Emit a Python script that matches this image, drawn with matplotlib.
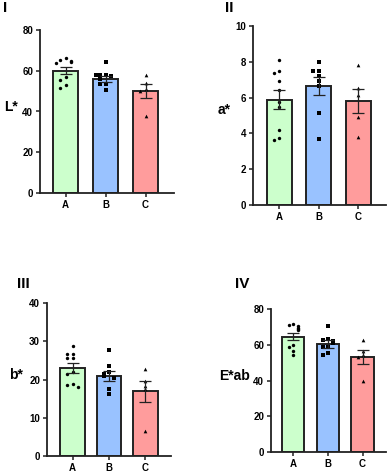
import numpy as np
import matplotlib
matplotlib.use('Agg')
from matplotlib import pyplot as plt

plt.rcParams['font.family'] = ['Liberation Sans', 'DejaVu Sans']
plt.rcParams['font.weight'] = 'bold'

groups = ['A', 'B', 'C']
bar_colors = ['#ccffcc', '#99c2ff', '#ff9c9c']
markers = ['o', 's', '^']
marker_sizes = [6, 5.5, 7]

# panel I - L*
l_means = [60.0, 56.0, 50.0]
l_sem = [1.8, 1.4, 3.4]
l_points = [[66.5, 65.5, 65.0, 64.5, 64.0, 57.0, 55.5, 53.0, 51.5],
            [64.5, 58.0, 58.0, 57.5, 58.0, 56.0, 53.5, 53.5, 50.5],
            [58.0, 54.0, 51.0, 50.0, 38.0]]

# panel II - a*
a_means = [5.88, 6.63, 5.81]
a_sem = [0.53, 0.51, 0.69]
a_points = [[8.1, 7.5, 7.4, 6.9, 6.45, 5.75, 5.5, 4.2, 3.75, 3.65],
            [8.0, 7.5, 7.5, 7.2, 6.95, 6.65, 5.15, 3.7],
            [7.8, 6.55, 6.13, 4.92, 3.8]]

# panel III - b*
b_means = [23.0, 21.0, 16.9]
b_sem = [1.3, 1.3, 2.75]
b_points = [[28.8, 26.7, 26.7, 25.5, 25.5, 22.0, 21.5, 18.8, 18.5, 18.0],
            [27.7, 23.5, 22.0, 21.4, 20.8, 20.5, 17.5, 16.2],
            [22.8, 19.5, 18.4, 17.4, 6.6]]

# panel IV - E*ab
e_means = [64.6, 60.3, 53.1]
e_sem = [2.1, 2.1, 3.9]
e_points = [[71.5, 71.0, 70.5, 69.5, 69.0, 68.0, 60.0, 58.5, 56.5, 54.5],
            [70.3, 63.0, 62.5, 62.0, 61.0, 59.0, 58.5, 55.5, 54.0],
            [62.5, 56.5, 54.0, 53.0, 39.5]]


def spread(values, tol):
    # small deterministic side-by-side offsets for points of similar value
    pattern = [0.0, -0.14, 0.14, -0.25, 0.25, -0.07, 0.07]
    offs = []
    for i, v in enumerate(values):
        k = sum(1 for u in values[:i] if abs(u - v) < tol)
        offs.append(pattern[k % len(pattern)])
    return np.array(offs)


def draw_panel(fig, rect, means, sem, points, ymax, ystep, xlim, width,
               ylabel, ylabel_x, tag, tag_xy):
    ax = fig.add_axes(rect)
    x = np.arange(len(groups))
    ax.bar(x, means, width=width, color=bar_colors, edgecolor='#222222',
           linewidth=1.4, zorder=1)
    for i in range(len(groups)):
        vals = points[i]
        ax.scatter(x[i] + spread(vals, ymax * 0.025), vals, marker=markers[i],
                   s=marker_sizes[i], color='black', linewidths=0, zorder=3)
        ax.errorbar(x[i], means[i], yerr=sem[i], fmt='none', ecolor='#222222',
                    elinewidth=0.9, capsize=4, capthick=0.9, zorder=4)
    ax.set_xlim(*xlim)
    ax.set_ylim(0, ymax)
    ax.set_yticks(np.arange(0, ymax + ystep / 2, ystep))
    ax.set_xticks(x)
    ax.set_xticklabels(groups)
    for s in ['top', 'right']:
        ax.spines[s].set_visible(False)
    for s in ['left', 'bottom']:
        ax.spines[s].set_linewidth(1.3)
        ax.spines[s].set_color('#222222')
    ax.tick_params(axis='both', length=3, width=1.1, labelsize=7, pad=2,
                   color='#222222')
    ax.set_ylabel(ylabel, fontsize=10, rotation=0, fontweight='bold',
                  va='center', ha='center')
    ax.yaxis.set_label_coords(ylabel_x, 0.53)
    fig.text(tag_xy[0] / 387, 1 - tag_xy[1] / 473, tag, fontsize=11,
             fontweight='bold', ha='left', va='center')
    return ax


fig = plt.figure(figsize=(3.87, 4.73), dpi=100)
fig.patch.set_facecolor('white')

draw_panel(fig, [40 / 387, 280 / 473, 134 / 387, 163 / 473],
           l_means, l_sem, l_points, 80, 20, (-0.64, 2.71), 0.625,
           'L*', -0.22, 'I', (3, 8))
draw_panel(fig, [253 / 387, 268 / 473, 133 / 387, 179 / 473],
           a_means, a_sem, a_points, 10, 2, (-0.67, 2.70), 0.63,
           'a*', -0.22, 'II', (225, 8))
draw_panel(fig, [47 / 387, 17 / 473, 124 / 387, 153 / 473],
           b_means, b_sem, b_points, 40, 10, (-0.70, 2.70), 0.68,
           'b*', -0.25, 'III', (17, 284))
draw_panel(fig, [271 / 387, 21 / 473, 115 / 387, 143 / 473],
           e_means, e_sem, e_points, 80, 20, (-0.65, 2.68), 0.64,
           'E*ab', -0.32, 'IV', (235, 284))

fig.savefig('out.png', dpi=100)
